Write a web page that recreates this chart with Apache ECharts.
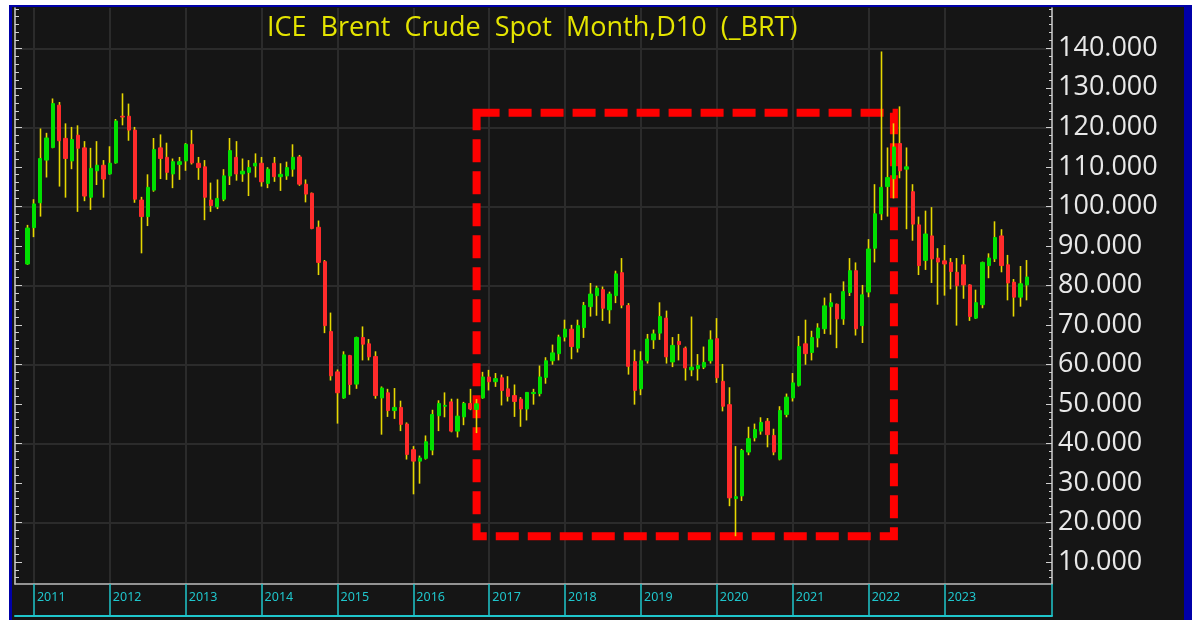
<!DOCTYPE html>
<html>
<head>
<meta charset="utf-8">
<script src="https://cdn.jsdelivr.net/npm/echarts@6/dist/echarts.min.js"></script>
<style>
  html, body { margin: 0; padding: 0; background: #fff; }
  #frame { position: absolute; left: 9px; top: 5px; width: 1183px; height: 615px; background: #0000a8; }
  #chart { position: absolute; left: 12px; top: 7px; width: 1172px; height: 613px; }
</style>
</head>
<body>
<div id="frame"></div>
<div id="chart"></div>
<script>
// axis runs Oct 2010 .. Jun 2024, bars start Dec 2010
const axisStart = [2010, 10];
const axisMonths = 165;
const firstBar = '2010-12';
const yearLabels = ['2011', '2012', '2013', '2014', '2015', '2016', '2017', '2018', '2019', '2020', '2021', '2022', '2023'];

// monthly bars: [open, high, low, close]
const bars = [
  [85.4, 95.3, 85.2, 94.5],
  // 2011
  [94.6, 101.8, 92.2, 100.6], [100.9, 119.7, 97.4, 112.1], [111.7, 118.6, 107.3, 117.3], [114.9, 127.3, 114.7, 126.0],
  [125.6, 126.4, 105.0, 116.6], [117.2, 121.0, 102.2, 112.1], [111.5, 120.1, 109.4, 116.9], [118.0, 120.5, 98.6, 114.7],
  [114.8, 116.5, 101.3, 102.6], [102.3, 114.8, 99.1, 109.6], [109.0, 116.5, 105.4, 110.4], [110.4, 111.7, 102.2, 106.9],
  // 2012
  [108.2, 115.2, 108.0, 110.9], [111.0, 122.1, 110.8, 121.6], [122.8, 128.6, 120.5, 122.6], [122.8, 126.0, 116.6, 119.3],
  [119.3, 120.1, 100.9, 101.8], [101.6, 102.4, 88.1, 97.4], [97.4, 108.1, 95.0, 104.8], [104.1, 117.3, 103.7, 114.4],
  [114.8, 118.2, 106.9, 112.1], [112.4, 116.1, 106.7, 108.6], [108.2, 112.1, 104.6, 111.3], [110.6, 112.5, 106.7, 111.3],
  // 2013
  [111.5, 116.0, 109.0, 115.7], [115.7, 119.3, 110.6, 111.0], [110.9, 112.5, 106.7, 109.8], [110.0, 111.7, 96.5, 102.3],
  [101.6, 106.0, 98.6, 100.2], [99.9, 106.8, 99.3, 102.0], [101.8, 109.4, 101.3, 107.7], [107.7, 117.3, 105.4, 114.1],
  [112.4, 116.5, 106.5, 108.2], [108.2, 112.1, 106.2, 108.9], [108.6, 111.7, 102.6, 109.8], [110.2, 113.4, 107.3, 110.9],
  // 2014
  [110.9, 112.5, 105.0, 106.2], [105.8, 109.9, 104.6, 109.4], [110.9, 112.5, 106.2, 107.5], [107.5, 110.9, 103.9, 108.1],
  [107.7, 111.3, 106.7, 109.8], [109.4, 115.7, 107.5, 112.4], [112.5, 113.0, 105.2, 105.6], [105.6, 106.8, 101.0, 103.1],
  [103.3, 103.5, 94.2, 94.4], [94.7, 96.4, 82.6, 85.8], [86.0, 86.4, 67.9, 69.8], [68.3, 73.1, 55.9, 57.1],
  // 2015
  [58.1, 58.7, 45.0, 52.8], [51.5, 63.3, 51.3, 62.4], [62.2, 62.4, 52.3, 54.9], [55.0, 67.0, 53.8, 66.8],
  [66.8, 69.6, 61.0, 65.1], [65.2, 66.4, 61.0, 61.9], [62.0, 63.3, 51.3, 52.1], [51.5, 54.4, 42.2, 54.0],
  [52.8, 53.8, 46.7, 48.3], [48.3, 54.0, 46.2, 49.1], [49.1, 50.8, 43.1, 44.8], [44.9, 45.3, 35.9, 37.2],
  // 2016
  [38.4, 39.3, 27.1, 35.5], [35.5, 36.9, 29.8, 36.3], [36.2, 42.0, 35.9, 40.4], [38.3, 48.5, 37.0, 47.3],
  [47.0, 50.9, 43.1, 50.1], [49.4, 52.9, 46.6, 49.6], [50.5, 51.3, 42.8, 43.1], [43.1, 51.3, 41.5, 46.9],
  [46.7, 50.5, 44.6, 50.1], [50.1, 53.8, 48.4, 48.7], [48.6, 51.2, 42.6, 50.0], [51.5, 58.1, 51.3, 56.8],
  // 2017
  [56.8, 58.6, 53.4, 55.6], [55.6, 57.8, 54.3, 56.4], [56.6, 57.4, 49.6, 53.4], [53.8, 57.0, 50.6, 51.9],
  [52.1, 54.9, 46.7, 50.6], [51.2, 51.7, 44.2, 48.7], [48.7, 53.0, 45.8, 52.9], [52.6, 53.8, 49.8, 52.9],
  [52.6, 59.7, 51.9, 56.8], [56.7, 61.8, 55.1, 60.9], [60.9, 65.0, 59.9, 62.9], [62.7, 67.5, 61.0, 66.9],
  // 2018
  [66.9, 71.3, 65.8, 68.9], [68.9, 70.0, 61.3, 64.5], [64.1, 71.3, 63.0, 69.8], [69.3, 75.8, 66.7, 74.9],
  [74.6, 80.6, 72.1, 77.8], [77.4, 79.9, 72.3, 79.3], [78.9, 79.7, 71.0, 74.2], [73.8, 78.4, 70.3, 77.8],
  [77.4, 83.7, 75.5, 82.9], [83.2, 86.9, 74.2, 75.0], [74.9, 75.5, 57.4, 59.5], [60.7, 63.7, 49.8, 53.4],
  // 2019
  [53.8, 63.3, 52.2, 60.9], [60.9, 67.7, 60.2, 66.4], [66.2, 68.8, 63.9, 67.7], [67.9, 75.7, 66.2, 72.1],
  [71.7, 73.6, 60.2, 61.9], [60.6, 66.9, 59.3, 64.8], [65.8, 67.7, 61.0, 65.0], [64.1, 64.5, 55.9, 59.1],
  [58.6, 72.1, 57.0, 59.3], [58.9, 62.6, 55.9, 59.7], [59.3, 64.5, 58.8, 60.5], [60.9, 68.6, 60.2, 66.2],
  // 2020
  [66.5, 71.7, 55.3, 56.6], [55.7, 60.1, 48.1, 49.4], [49.8, 54.2, 24.1, 26.2], [26.0, 39.3, 16.5, 26.5],
  [26.7, 38.6, 25.4, 38.2], [37.8, 44.2, 37.0, 41.2], [41.4, 45.0, 40.5, 43.5], [43.1, 46.6, 42.2, 45.3],
  [45.6, 46.4, 39.0, 42.2], [42.0, 43.7, 37.0, 37.8], [36.0, 49.4, 35.7, 48.3], [47.3, 52.6, 46.6, 51.7],
  // 2021
  [51.5, 57.8, 50.6, 55.3], [54.7, 67.2, 54.4, 64.5], [65.2, 71.3, 59.9, 62.7], [63.0, 68.5, 61.0, 66.8],
  [66.7, 70.4, 64.3, 69.2], [69.0, 76.9, 67.7, 74.8], [74.6, 78.0, 67.5, 75.6], [75.2, 75.4, 64.1, 71.5],
  [71.5, 81.0, 70.0, 78.4], [78.2, 86.9, 77.3, 83.7], [83.7, 85.8, 67.3, 69.0], [69.8, 80.1, 65.4, 77.6],
  // 2022
  [78.3, 91.7, 77.0, 89.2], [89.4, 105.6, 85.8, 98.1], [98.1, 139.2, 96.5, 104.8], [105.0, 114.9, 97.4, 107.3],
  [107.0, 121.0, 102.0, 115.0], [115.9, 125.3, 107.1, 109.0], [109.4, 114.9, 94.2, 110.0], [103.7, 105.6, 91.3, 95.5],
  [95.3, 97.4, 82.6, 85.0], [86.3, 98.9, 83.9, 93.0], [92.5, 99.8, 80.6, 86.7], [86.9, 89.4, 75.1, 85.9],
  // 2023
  [86.2, 90.2, 77.4, 85.4], [85.8, 86.9, 79.0, 83.5], [83.3, 86.9, 69.8, 79.9], [85.2, 87.7, 76.6, 80.1],
  [80.1, 80.3, 71.0, 72.1], [71.7, 78.9, 71.5, 75.6], [75.1, 86.0, 74.2, 85.8], [85.0, 88.1, 81.8, 86.9],
  [86.7, 96.2, 85.9, 92.1], [92.5, 94.2, 83.3, 85.0], [85.2, 87.7, 76.2, 80.6], [80.8, 81.6, 72.1, 77.0],
  // 2024
  [77.0, 84.9, 74.6, 80.4], [80.1, 86.4, 76.2, 82.1],
];

const majorTicks = [10, 20, 30, 40, 50, 60, 70, 80, 90, 100, 110, 120, 130, 140];
const gridTicks = [20, 40, 60, 80, 100, 120, 140];
const minorTicks = [];
for (let v = 6; v <= 150; v += 2) minorTicks.push(v);

// dashed box corners: [month, price]
const boxFrom = ['2016-11', 123.7];
const boxTo = ['2022-05', 16.5];

const UP = '#00e000', DOWN = '#ff2b2b', WICK = '#e6d800';
const GRIDC = '#2b2b2b', AXISC = '#d0d0d0', CYAN = '#1fc6cc';

const months = [];
for (let i = 0; i < axisMonths; i++) {
  const m = axisStart[1] - 1 + i;
  const y = axisStart[0] + Math.floor(m / 12);
  months.push(y + '-' + String(m % 12 + 1).padStart(2, '0'));
}
const off = months.indexOf(firstBar);
const wickData = bars.map((b, i) => [months[off + i], b[0], b[3], b[2], b[1]]);
const bodyData = bars.map((b, i) => [months[off + i], b[0], b[3], Math.min(b[0], b[3]), Math.max(b[0], b[3])]);

const isYear = (i, v) => v.endsWith('-01') && yearLabels.includes(v.slice(0, 4));

const chart = echarts.init(document.getElementById('chart'));
const yBase = { type: 'value', min: 4.4, max: 150.2, scale: true };

chart.setOption({
  animation: false,
  backgroundColor: '#151515',
  title: {
    text: 'ICE  Brent  Crude  Spot  Month,D10  (_BRT)',
    left: 250, top: 3,
    textStyle: { color: '#e4e400', fontSize: 27, fontWeight: 'normal', fontFamily: 'Open Sans' },
  },
  grid: { left: 3, right: 132, top: 1, bottom: 36 },
  xAxis: [{
    type: 'category',
    data: months,
    boundaryGap: false,
    axisLine: { lineStyle: { color: '#bdbdbd', width: 1.5 } },
    axisTick: { interval: (i, v) => isYear(i, v) || i === axisMonths - 1, length: 32, lineStyle: { color: CYAN, width: 1.5 } },
    axisLabel: {
      interval: isYear, formatter: v => v.slice(0, 4), align: 'left', padding: [0, 0, 0, 3], margin: 7,
      color: CYAN, fontSize: 12.5, fontFamily: 'Noto Sans',
    },
    splitLine: { show: true, interval: isYear, lineStyle: { color: GRIDC, width: 2 } },
  }, {
    type: 'category',
    data: months,
    boundaryGap: false,
    position: 'bottom',
    offset: 32,
    axisLine: { lineStyle: { color: CYAN, width: 2 } },
    axisTick: { show: false },
    axisLabel: { show: false },
  }],
  yAxis: [{
    ...yBase,
    position: 'right',
    axisLine: { show: true, lineStyle: { color: AXISC, width: 1.5 } },
    axisTick: { show: true, inside: true, length: 6, customValues: majorTicks, lineStyle: { color: AXISC } },
    axisLabel: {
      customValues: majorTicks, formatter: v => v.toFixed(3), margin: 6, padding: [7, 0, 0, 0],
      color: '#e8e8e8', fontSize: 27, fontFamily: 'Open Sans',
    },
    splitLine: { show: false },
  }, {
    ...yBase,
    position: 'right',
    axisLine: { show: false },
    axisTick: { show: true, inside: true, length: 3, customValues: minorTicks, lineStyle: { color: AXISC } },
    axisLabel: { show: false },
    splitLine: { show: false },
  }, {
    ...yBase,
    position: 'left',
    axisLine: { show: true, lineStyle: { color: AXISC, width: 1.5 } },
    axisTick: { show: true, inside: true, length: 7, customValues: majorTicks, lineStyle: { color: AXISC } },
    axisLabel: { show: false },
    splitLine: { show: false },
  }, {
    ...yBase,
    position: 'left',
    axisLine: { show: false },
    axisTick: { show: true, inside: true, length: 4, customValues: minorTicks, lineStyle: { color: AXISC } },
    axisLabel: { show: false },
    splitLine: { show: false },
  }, {
    ...yBase,
    position: 'left',
    axisLine: { show: false },
    axisTick: { show: false, customValues: gridTicks },
    axisLabel: { show: false },
    splitLine: { show: true, lineStyle: { color: GRIDC, width: 2 } },
  }],
  series: [{
    name: 'wick',
    type: 'candlestick',
    data: wickData,
    encode: { x: 0, y: [1, 2, 3, 4] },
    barWidth: 0.4,
    silent: true,
    itemStyle: { color: WICK, color0: WICK, borderColor: WICK, borderColor0: WICK, borderColorDoji: WICK, borderWidth: 1.6 },
    z: 2,
  }, {
    name: 'body',
    type: 'candlestick',
    data: bodyData,
    encode: { x: 0, y: [1, 2, 3, 4] },
    barWidth: 3.8,
    silent: true,
    itemStyle: { color: UP, color0: DOWN, borderColor: UP, borderColor0: DOWN, borderColorDoji: UP, borderWidth: 1 },
    z: 3,
  }, {
    name: 'box',
    type: 'line',
    data: [],
    z: 5,
    silent: true,
    markArea: {
      silent: true,
      itemStyle: { color: 'rgba(0,0,0,0)', borderColor: '#ff0000', borderWidth: 8, borderType: [23, 9] },
      data: [[{ coord: boxFrom }, { coord: boxTo }]],
    },
  }],
});
</script>
</body>
</html>
